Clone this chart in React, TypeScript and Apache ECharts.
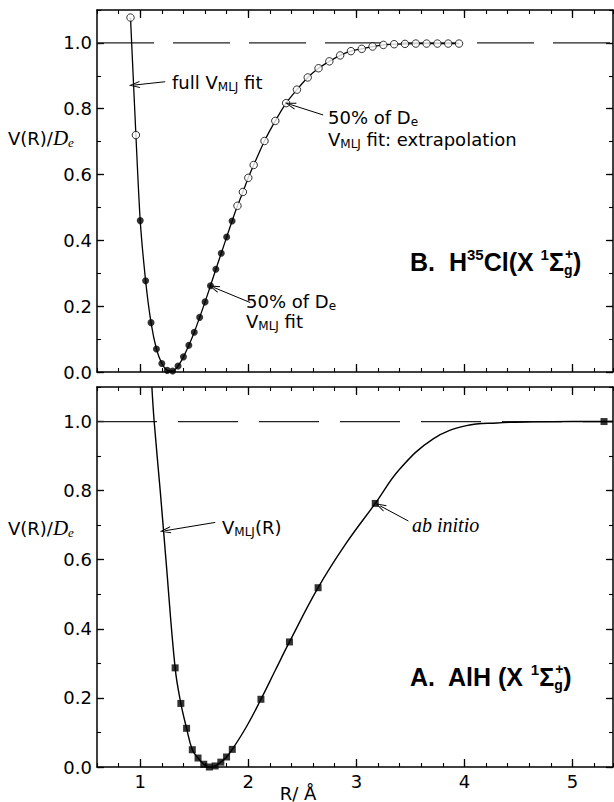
import React, { useEffect, useRef } from 'react';
import * as echarts from 'echarts';

// ---------- axes ----------
const xRange = [0.6, 5.375];
const yRange = [0, 1.1];
const xMajorTicks = [1, 2, 3, 4, 5];
const yMajorTicks = [0, 0.2, 0.4, 0.6, 0.8, 1.0];
const xMinorStep = 0.2;
const yMinorStep = 0.1;
const dissociationLevel = 1.0;

// ---------- Panel B: H35Cl ----------
const hclFilledR = [1.0, 1.05, 1.1, 1.15, 1.2, 1.25, 1.3, 1.35, 1.4, 1.45, 1.5, 1.55, 1.6, 1.65, 1.7, 1.75, 1.8, 1.85];
const hclFilledV = [0.46, 0.277, 0.15, 0.07, 0.026, 0.005, 0.003, 0.018, 0.046, 0.081, 0.121, 0.166, 0.213, 0.262, 0.312, 0.361, 0.41, 0.459];
const hclOpenR = [0.91, 0.96, 1.9, 1.95, 2.0, 2.05, 2.15, 2.25, 2.35, 2.45, 2.55, 2.65, 2.75, 2.85, 2.95, 3.05, 3.15, 3.25, 3.35, 3.45, 3.55, 3.65, 3.75, 3.85, 3.95];
const hclOpenV = [1.077, 0.72, 0.505, 0.547, 0.59, 0.629, 0.702, 0.763, 0.817, 0.858, 0.895, 0.923, 0.944, 0.962, 0.975, 0.982, 0.989, 0.994, 0.996, 0.997, 0.998, 0.998, 0.998, 0.998, 0.998];

// ---------- Panel A: AlH ----------
const alhAbInitioR = [1.323, 1.376, 1.429, 1.482, 1.535, 1.588, 1.64, 1.693, 1.746, 1.799, 1.852, 2.117, 2.381, 2.646, 3.175, 5.292];
const alhAbInitioV = [0.287, 0.184, 0.112, 0.05, 0.026, 0.008, 0.0, 0.003, 0.014, 0.029, 0.051, 0.196, 0.362, 0.519, 0.763, 1.0];
const alhCurveR = [1.108, 1.129, 1.185, 1.238, 1.323, 1.376, 1.429, 1.482, 1.535, 1.588, 1.64, 1.693, 1.746, 1.799, 1.852, 1.98, 2.117, 2.25, 2.381, 2.646, 2.9, 3.175, 3.4, 3.711, 4.019, 4.3, 4.632, 5.0, 5.292, 5.375];
const alhCurveV = [1.1, 1.0, 0.8, 0.6, 0.287, 0.184, 0.112, 0.05, 0.026, 0.008, 0.0, 0.003, 0.014, 0.029, 0.051, 0.115, 0.196, 0.28, 0.362, 0.519, 0.645, 0.763, 0.862, 0.95, 0.988, 0.996, 0.999, 1.0, 1.0, 1.0];

// ---------- annotation arrows (data coords: [fromR, fromV, toR, toV]) ----------
const hclArrows = [
  [1.231, 0.882, 0.945, 0.872],
  [2.693, 0.781, 2.388, 0.813],
  [2.018, 0.211, 1.68, 0.257],
];
const alhArrows = [
  [1.694, 0.708, 1.231, 0.684],
  [3.482, 0.712, 3.22, 0.756],
];

const SANS = '"DejaVu Sans", "Liberation Sans", sans-serif';
const BOLD = '"Liberation Sans", Arial, sans-serif';
const SERIF = '"Liberation Serif", "DejaVu Serif", serif';
const BLACK = '#000';

const zip = (a: number[], b: number[]) => a.map((v, i) => [v, b[i]]);

function xAxesFor(gridIndex: number, labels: boolean) {
  const common = {
    type: 'value', gridIndex, min: xRange[0], max: xRange[1],
    splitLine: { show: false },
  };
  const major = (position: string) => ({
    ...common, position,
    axisLine: { show: true, onZero: false, lineStyle: { color: BLACK, width: 1.5 } },
    axisTick: { show: true, inside: true, length: 8, customValues: xMajorTicks, lineStyle: { color: BLACK, width: 1.3 } },
    axisLabel: labels && position === 'bottom'
      ? { show: true, customValues: xMajorTicks, formatter: (v: number) => String(Math.round(v)), color: BLACK, fontSize: 18, fontFamily: SANS, margin: 5 }
      : { show: false },
  });
  const minor = (position: string) => ({
    ...common, position, interval: xMinorStep,
    axisLine: { show: false, onZero: false },
    axisTick: { show: true, inside: true, length: 4, lineStyle: { color: BLACK, width: 1.1 } },
    axisLabel: { show: false },
  });
  return [major('bottom'), minor('bottom'), major('top'), minor('top')];
}

function yAxesFor(gridIndex: number) {
  const common = {
    type: 'value', gridIndex, min: yRange[0], max: yRange[1],
    splitLine: { show: false },
  };
  const major = (position: string) => ({
    ...common, position,
    axisLine: { show: true, onZero: false, lineStyle: { color: BLACK, width: 1.5 } },
    axisTick: { show: true, inside: true, length: 7, customValues: yMajorTicks, lineStyle: { color: BLACK, width: 1.3 } },
    axisLabel: position === 'left'
      ? { show: true, customValues: yMajorTicks, formatter: (v: number) => v.toFixed(1), color: BLACK, fontSize: 18, fontFamily: SANS, margin: 5 }
      : { show: false },
  });
  const minor = (position: string) => ({
    ...common, position, interval: yMinorStep,
    axisLine: { show: false, onZero: false },
    axisTick: { show: true, inside: true, length: 4, lineStyle: { color: BLACK, width: 1.1 } },
    axisLabel: { show: false },
  });
  return [major('left'), minor('left'), major('right'), minor('right')];
}

const ARROW_HEAD = 'path://M4,0 L8,14 L6.9,14 L4,3.6 L1.1,14 L0,14 Z';

function arrowMarkLine(arrows: number[][]) {
  return {
    silent: true,
    animation: false,
    label: { show: false },
    emphasis: { disabled: true },
    lineStyle: { color: BLACK, width: 1, type: 'solid' },
    data: arrows.map(([x1, y1, x2, y2]) => [
      { coord: [x1, y1], symbol: 'none' },
      { coord: [x2, y2], symbol: ARROW_HEAD, symbolSize: [7, 11] },
    ]),
  };
}

const RICH: any = {
  n: { fontFamily: SANS, fontSize: 18, lineHeight: 22, verticalAlign: 'middle', fill: BLACK },
  sub: { fontFamily: SANS, fontSize: 12, lineHeight: 12, verticalAlign: 'bottom', fill: BLACK },
  it: { fontFamily: SERIF, fontStyle: 'italic', fontSize: 20, lineHeight: 22, verticalAlign: 'middle', fill: BLACK },
  d: { fontFamily: SERIF, fontStyle: 'italic', fontSize: 21, lineHeight: 22, verticalAlign: 'middle', fill: BLACK },
  de: { fontFamily: SERIF, fontStyle: 'italic', fontSize: 13, lineHeight: 12, verticalAlign: 'bottom', fill: BLACK },
  b: { fontFamily: BOLD, fontWeight: 'bold', fontSize: 25, lineHeight: 30, verticalAlign: 'middle', fill: BLACK },
  bs: { fontFamily: BOLD, fontWeight: 'bold', fontSize: 15, lineHeight: 15, verticalAlign: 'top', fill: BLACK },
  bg: { fontFamily: BOLD, fontWeight: 'bold', fontSize: 14, lineHeight: 12, verticalAlign: 'bottom', width: 1, fill: BLACK },
  bp: { fontFamily: BOLD, fontWeight: 'bold', fontSize: 14, lineHeight: 12, verticalAlign: 'top', fill: BLACK },
};

const txt = (x: number, y: number, text: string, align = 'left') => ({
  type: 'text', x, y, silent: true, z: 100,
  style: { text, rich: RICH, align, verticalAlign: 'middle', fill: BLACK },
});

export default function App() {
  const ref = useRef<HTMLDivElement>(null);
  useEffect(() => {
    if (!ref.current) return;
    const chart = echarts.init(ref.current, null, { renderer: 'svg' });
    const hclLine = zip([...hclFilledR, ...hclOpenR], [...hclFilledV, ...hclOpenV]).sort((a, b) => a[0] - b[0]);
    const dash = [[xRange[0], dissociationLevel], [xRange[1], dissociationLevel]];
    const option: any = {
      animation: false,
      backgroundColor: '#fff',
      grid: [
        { left: 97, top: 10, width: 516, height: 362 },
        { left: 97, top: 387, width: 516, height: 380 },
      ],
      xAxis: [...xAxesFor(0, false), ...xAxesFor(1, true)],
      yAxis: [...yAxesFor(0), ...yAxesFor(1)],
      series: [
        {
          type: 'line', xAxisIndex: 0, yAxisIndex: 0, data: dash, symbol: 'none', silent: true, z: 1,
          lineStyle: { color: '#222', width: 1.2, type: [57, 19] },
        },
        {
          type: 'line', xAxisIndex: 0, yAxisIndex: 0, data: hclLine, symbol: 'none', silent: true, z: 2,
          smooth: 0.25,
          lineStyle: { color: BLACK, width: 1.3 },
          markLine: arrowMarkLine(hclArrows),
        },
        {
          type: 'scatter', xAxisIndex: 0, yAxisIndex: 0, data: zip(hclFilledR, hclFilledV), silent: true, z: 3,
          symbol: 'circle', symbolSize: 7, itemStyle: { color: BLACK },
        },
        {
          type: 'scatter', xAxisIndex: 0, yAxisIndex: 0, data: zip(hclOpenR, hclOpenV), silent: true, z: 3,
          symbol: 'circle', symbolSize: 7.5, itemStyle: { color: '#fff', borderColor: BLACK, borderWidth: 1 },
        },
        {
          type: 'line', xAxisIndex: 4, yAxisIndex: 4, data: dash, symbol: 'none', silent: true, z: 1,
          lineStyle: { color: '#222', width: 1.2, type: [60, 21] },
        },
        {
          type: 'line', xAxisIndex: 4, yAxisIndex: 4, data: zip(alhCurveR, alhCurveV), symbol: 'none', silent: true, z: 2,
          smooth: 0.4,
          lineStyle: { color: BLACK, width: 1.4 },
          markLine: arrowMarkLine(alhArrows),
        },
        {
          type: 'scatter', xAxisIndex: 4, yAxisIndex: 4, data: zip(alhAbInitioR, alhAbInitioV), silent: true, z: 3,
          symbol: 'rect', symbolSize: 7, itemStyle: { color: BLACK },
        },
      ],
      graphic: [
        txt(172, 82, '{n|full V}{sub|MLJ}{n| fit}'),
        txt(328, 117, '{n|50% of D}{sub|e}'),
        txt(328, 139, '{n|V}{sub|MLJ}{n| fit: extrapolation}'),
        txt(246, 301, '{n|50% of D}{sub|e}'),
        txt(246, 321, '{n|V}{sub|MLJ}{n| fit}'),
        txt(410, 262, '{b|B.  H}{bs|35}{b|Cl(X }{bs|1}{b|Σ}{bg|g}{bp|+}{b|)}'),
        txt(222, 527, '{n|V}{sub|MLJ}{n|(R)}'),
        txt(412, 525, '{it|ab initio}'),
        txt(410, 677, '{b|A.  AlH (X }{bs|1}{b|Σ}{bg|g}{bp|+}{b|)}'),
        txt(8, 138, '{n|V(R)/}{d|D}{de|e}'),
        txt(8, 528, '{n|V(R)/}{d|D}{de|e}'),
        txt(298, 793, '{n|R/ Å}', 'center'),
      ],
    };
    chart.setOption(option);
    return () => chart.dispose();
  }, []);
  return (
    <div
      ref={ref}
      style={{ position: 'absolute', left: 0, top: 0, width: 614, height: 802, background: '#fff' }}
    />
  );
}
